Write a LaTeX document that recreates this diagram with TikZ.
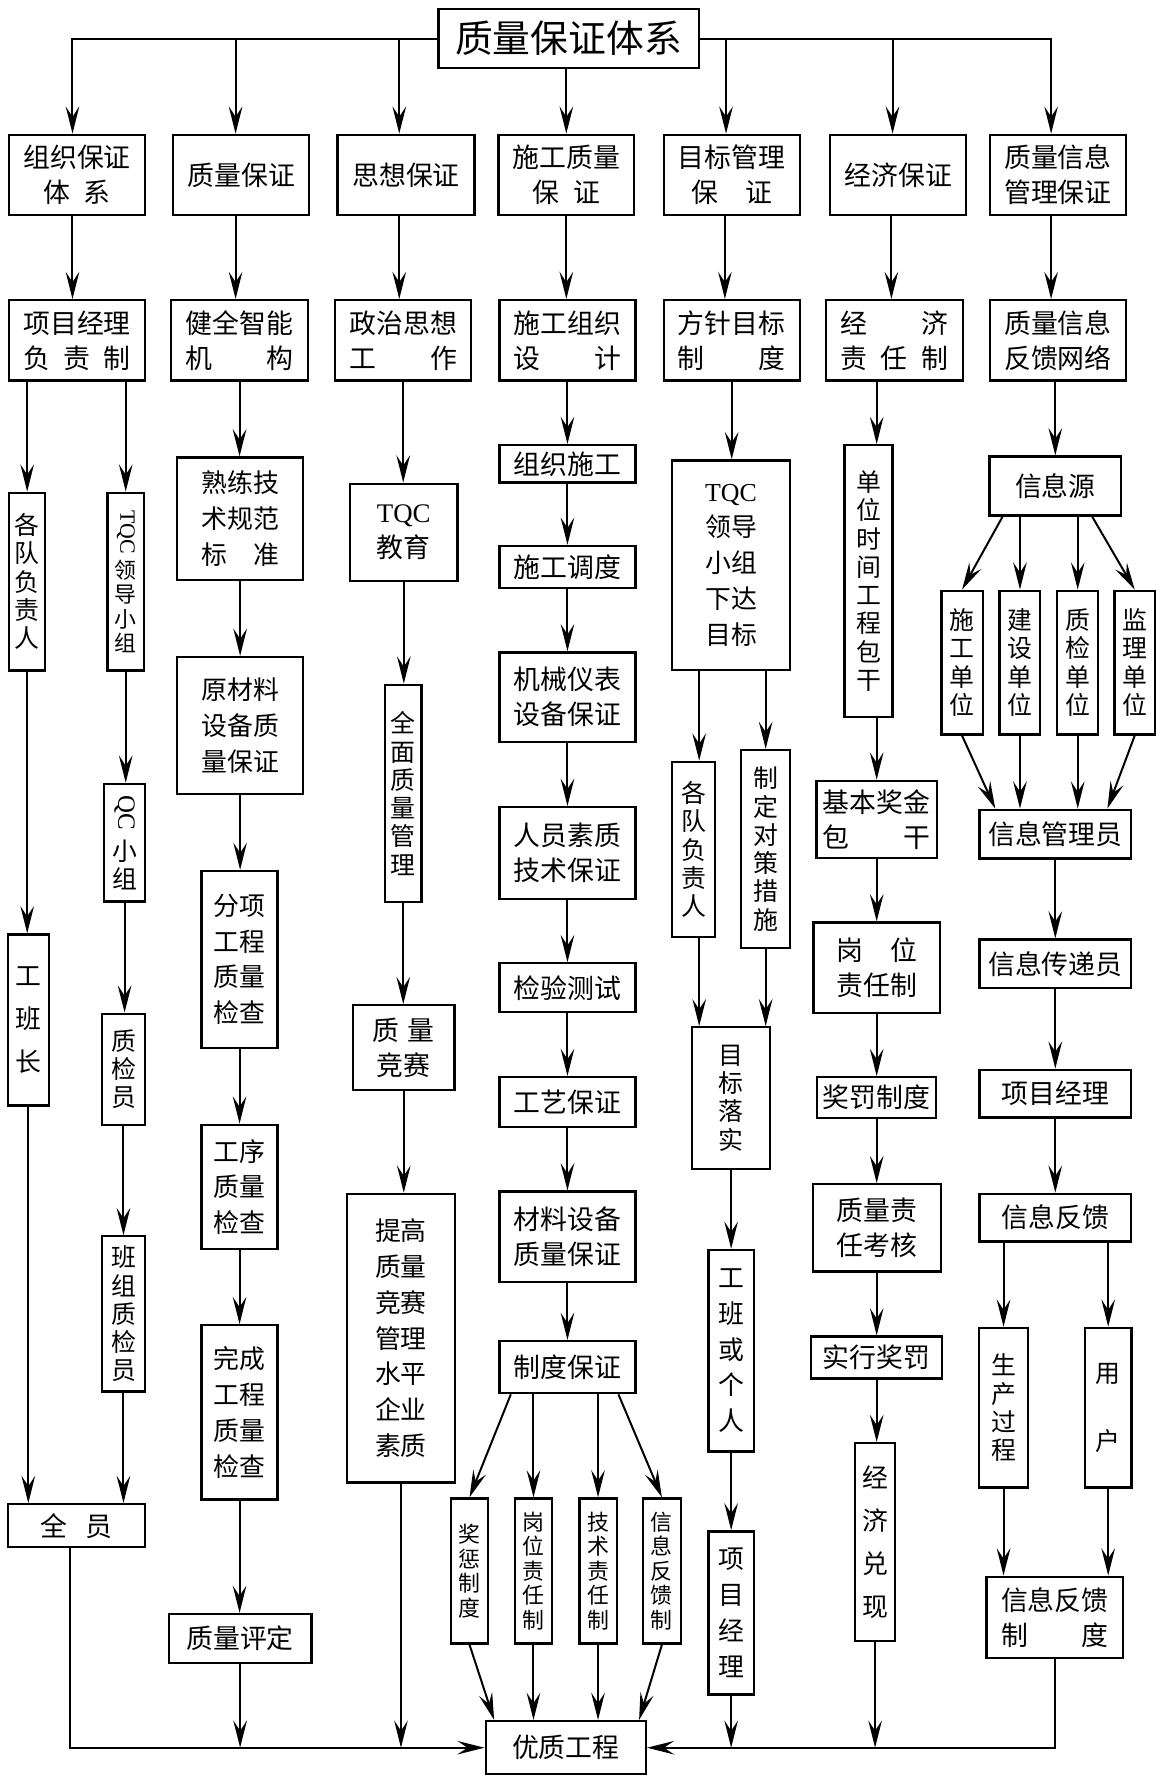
\documentclass[tikz,border=0pt]{standalone}
\usepackage{graphicx}
\usepackage{fontspec}
\setmainfont{Noto Sans CJK SC}
\newfontfamily\latinfont{Liberation Serif}
\usetikzlibrary{arrows.meta}
\newcommand{\fntitle}{\fontsize{19}{22}\selectfont}
\newcommand{\fnbox}{\fontsize{13.5}{17.6}\selectfont}
\newcommand{\fnvert}{\fontsize{12.5}{14.2}\selectfont}
\newcommand{\fnsmall}{\fontsize{11}{12.3}\selectfont}
\newcommand{\fnwide}{\fontsize{13}{18}\selectfont}
\newcommand{\fnwider}{\fontsize{13}{21.5}\selectfont}

\begin{document}
\begin{tikzpicture}[x=0.02cm,y=-0.02cm,
  box/.style={draw,line width=1.15pt,inner sep=0pt,align=center,font=\fnbox},
  vbox/.style={box,font=\fnvert},
  sbox/.style={box,font=\fnsmall},
  arr/.style={line width=1pt,-{Stealth[length=4.8mm,width=2.4mm,inset=1.8mm]}}]
\useasboundingbox (0,0) rectangle (1020,1568);

\node[box,font=\fntitle,minimum width=4.6cm,minimum height=1.04cm] (title) at (502,34) {质量保证体系};

\node[box,minimum width=2.4cm,minimum height=1.42cm] (r1a) at (68,154.5) {组织保证\\体\hspace{0.5em}系};
\node[box,minimum width=2.4cm,minimum height=1.42cm] (r1b) at (213,154.5) {质量保证};
\node[box,minimum width=2.42cm,minimum height=1.42cm] (r1c) at (358.5,154.5) {思想保证};
\node[box,minimum width=2.4cm,minimum height=1.42cm] (r1d) at (500,154.5) {施工质量\\保\hspace{0.5em}证};
\node[box,minimum width=2.4cm,minimum height=1.42cm] (r1e) at (646,154.5) {目标管理\\保\hspace{1em}证};
\node[box,minimum width=2.4cm,minimum height=1.42cm] (r1f) at (793,154.5) {经济保证};
\node[box,minimum width=2.4cm,minimum height=1.42cm] (r1g) at (934,154.5) {质量信息\\管理保证};

\node[box,minimum width=2.4cm,minimum height=1.42cm] (r2a) at (68,300.5) {项目经理\\负\hspace{0.5em}责\hspace{0.5em}制};
\node[box,minimum width=2.42cm,minimum height=1.42cm] (r2b) at (211.5,300.5) {健全智能\\机\hspace{2em}构};
\node[box,minimum width=2.4cm,minimum height=1.42cm] (r2c) at (356,300.5) {政治思想\\工\hspace{2em}作};
\node[box,minimum width=2.4cm,minimum height=1.42cm] (r2d) at (501,300.5) {施工组织\\设\hspace{2em}计};
\node[box,minimum width=2.4cm,minimum height=1.42cm] (r2e) at (646,300.5) {方针目标\\制\hspace{2em}度};
\node[box,minimum width=2.42cm,minimum height=1.42cm] (r2f) at (789.5,300.5) {经\hspace{2em}济\\责\hspace{0.5em}任\hspace{0.5em}制};
\node[box,minimum width=2.4cm,minimum height=1.42cm] (r2g) at (934,300.5) {质量信息\\反馈网络};

\node[vbox,minimum width=0.64cm,minimum height=3.14cm] (c1a) at (24,513.5) {各\\队\\负\\责\\人};
\node[sbox,minimum width=0.64cm,minimum height=3.14cm] (c1b) at (111,513.5) {\rotatebox{-90}{\latinfont TQC}\\[2pt]领\\导\\小\\组};
\node[vbox,minimum width=0.72cm,minimum height=2.08cm] (c1c) at (110,744) {\rotatebox{-90}{\latinfont QC}\\[4pt]小\\组};
\node[box,font=\fnwider,minimum width=0.72cm,minimum height=3.02cm] (c1d) at (25,900.5) {工\\班\\长};
\node[vbox,minimum width=0.76cm,minimum height=1.96cm] (c1e) at (109,944) {质\\检\\员};
\node[vbox,minimum width=0.76cm,minimum height=2.74cm] (c1f) at (109,1160) {班\\组\\质\\检\\员};
\node[box,minimum width=2.42cm,minimum height=0.76cm] (c1g) at (67.5,1347) {全\hspace{0.7em}员};

\node[box,font=\fnwide,minimum width=2.22cm,minimum height=2.16cm] (c2a) at (212,458) {熟练技\\术规范\\标\hspace{1em}准};
\node[box,font=\fnwide,minimum width=2.22cm,minimum height=2.42cm] (c2b) at (212,640.5) {原材料\\设备质\\量保证};
\node[box,font=\fnwide,minimum width=1.34cm,minimum height=3.12cm] (c2c) at (211.5,847) {分项\\工程\\质量\\检查};
\node[box,font=\fnwide,minimum width=1.34cm,minimum height=2.2cm] (c2d) at (211.5,1048) {工序\\质量\\检查};
\node[box,font=\fnwide,minimum width=1.34cm,minimum height=3.08cm] (c2e) at (211.5,1247) {完成\\工程\\质量\\检查};
\node[box,minimum width=2.52cm,minimum height=0.86cm] (c2f) at (212,1446.5) {质量评定};

\node[box,minimum width=1.9cm,minimum height=1.72cm] (c3a) at (356.5,470) {{\latinfont TQC}\\教育};
\node[vbox,minimum width=0.65cm,minimum height=3.84cm] (c3b) at (356,700.5) {全\\面\\质\\量\\管\\理};
\node[box,minimum width=1.79cm,minimum height=1.5cm] (c3c) at (356.5,925) {质\hspace{0.3em}量\\竞赛};
\node[box,font=\fnwide,minimum width=1.9cm,minimum height=5.1cm] (c3d) at (354,1181.5) {提高\\质量\\竞赛\\管理\\水平\\企业\\素质};

\node[box,minimum width=2.4cm,minimum height=0.66cm] (c4a) at (501,409.5) {组织施工};
\node[box,minimum width=2.4cm,minimum height=0.74cm] (c4b) at (501,500.5) {施工调度};
\node[box,minimum width=2.4cm,minimum height=1.58cm] (c4c) at (501,615.5) {机械仪表\\设备保证};
\node[box,minimum width=2.4cm,minimum height=1.62cm] (c4d) at (501,753) {人员素质\\技术保证};
\node[box,minimum width=2.4cm,minimum height=0.86cm] (c4e) at (501,872) {检验测试};
\node[box,minimum width=2.4cm,minimum height=0.88cm] (c4f) at (501,973) {工艺保证};
\node[box,minimum width=2.4cm,minimum height=1.6cm] (c4g) at (501,1092) {材料设备\\质量保证};
\node[box,minimum width=2.4cm,minimum height=0.92cm] (c4h) at (501,1207) {制度保证};
\node[sbox,minimum width=0.66cm,minimum height=2.56cm] (k1) at (414.5,1387) {奖\\惩\\制\\度};
\node[sbox,minimum width=0.66cm,minimum height=2.56cm] (k2) at (471,1387) {岗\\位\\责\\任\\制};
\node[sbox,minimum width=0.66cm,minimum height=2.56cm] (k3) at (528,1387) {技\\术\\责\\任\\制};
\node[sbox,minimum width=0.67cm,minimum height=2.56cm] (k4) at (584.4,1387) {信\\息\\反\\馈\\制};
\node[box,minimum width=2.83cm,minimum height=0.94cm] (yz) at (499.5,1543) {优质工程};

\node[box,font=\fnwide,minimum width=2.08cm,minimum height=3.7cm] (c5a) at (645.4,499) {{\latinfont TQC}\\领导\\小组\\下达\\目标};
\node[vbox,minimum width=0.76cm,minimum height=3.1cm] (c5b) at (612.3,750) {各\\队\\负\\责\\人};
\node[vbox,minimum width=0.86cm,minimum height=3.5cm] (c5c) at (676,749.7) {制\\定\\对\\策\\措\\施};
\node[vbox,minimum width=1.37cm,minimum height=2.5cm] (c5d) at (645.3,969.5) {目\\标\\落\\实};
\node[box,font=\fnwide,minimum width=0.8cm,minimum height=3.56cm] (c5e) at (645.5,1192.5) {工\\班\\或\\个\\人};
\node[box,font=\fnwide,minimum width=0.8cm,minimum height=2.88cm] (c5f) at (645.5,1424) {项\\目\\经\\理};

\node[vbox,minimum width=0.85cm,minimum height=4.8cm] (c6a) at (766.8,513) {单\\位\\时\\间\\工\\程\\包\\干};
\node[box,minimum width=2.13cm,minimum height=1.36cm] (c6b) at (774,723.3) {基本奖金\\包\hspace{2em}干};
\node[box,minimum width=2.23cm,minimum height=1.6cm] (c6c) at (774,854.4) {岗\hspace{1em}位\\责任制};
\node[box,minimum width=2.1cm,minimum height=0.72cm] (c6d) at (774,969) {奖罚制度};
\node[box,minimum width=2.26cm,minimum height=1.54cm] (c6e) at (774,1084) {质量责\\任考核};
\node[box,minimum width=2.31cm,minimum height=0.74cm] (c6f) at (774,1198.5) {实行奖罚};
\node[box,font=\fnwider,minimum width=0.7cm,minimum height=3.5cm] (c6g) at (772.6,1361.6) {经\\济\\兑\\现};

\node[box,minimum width=2.32cm,minimum height=1.04cm] (c7a) at (931.7,429) {信息源};
\node[vbox,minimum width=0.73cm,minimum height=2.54cm] (c7b) at (849.4,585) {施\\工\\单\\位};
\node[vbox,minimum width=0.72cm,minimum height=2.54cm] (c7c) at (900.5,585) {建\\设\\单\\位};
\node[vbox,minimum width=0.72cm,minimum height=2.54cm] (c7d) at (951.5,585) {质\\检\\单\\位};
\node[vbox,minimum width=0.71cm,minimum height=2.54cm] (c7e) at (1001.8,585) {监\\理\\单\\位};
\node[box,minimum width=2.68cm,minimum height=0.86cm] (c7f) at (931.7,736.4) {信息管理员};
\node[box,minimum width=2.68cm,minimum height=0.86cm] (c7g) at (931.7,851) {信息传递员};
\node[box,minimum width=2.68cm,minimum height=0.84cm] (c7h) at (931.7,965.5) {项目经理};
\node[box,minimum width=2.68cm,minimum height=0.84cm] (c7i) at (931.7,1075) {信息反馈};
\node[vbox,minimum width=0.86cm,minimum height=2.82cm] (c7j) at (886,1242.8) {生\\产\\过\\程};
\node[vbox,minimum width=0.82cm,minimum height=2.82cm] (c7k) at (978.4,1242.8) {用\\[20pt]户};
\node[box,minimum width=2.41cm,minimum height=1.44cm] (c7l) at (931.3,1428) {信息反馈\\制\hspace{2em}度};

\draw[arr] (title.west) -| ([xshift=-0.08cm]r1a.north);
\draw[arr] ([xshift=-0.1cm]r1b.north |- title.west) -- ([xshift=-0.1cm]r1b.north);
\draw[arr] ([xshift=-0.12cm]r1c.north |- title.west) -- ([xshift=-0.12cm]r1c.north);
\draw[arr] (title.south -| r1d) -- (r1d);
\draw[arr] (title.east) -| ([xshift=-0.12cm]r1g.north);
\draw[arr] ([xshift=-0.1cm]r1e.north |- title.east) -- ([xshift=-0.1cm]r1e.north);
\draw[arr] ([xshift=-0.1cm]r1f.north |- title.east) -- ([xshift=-0.1cm]r1f.north);

\draw[arr] ([xshift=-0.08cm]r1a.south) -- ([xshift=-0.08cm]r1a.south |- r2a.north);
\draw[arr] ([xshift=-0.1cm]r1b.south) -- ([xshift=-0.1cm]r1b.south |- r2b.north);
\draw[arr] ([xshift=-0.12cm]r1c.south) -- ([xshift=-0.12cm]r1c.south |- r2c.north);
\draw[arr] (r1d) -- (r1d |- r2d.north);
\draw[arr] ([xshift=-0.12cm]r1e.south) -- ([xshift=-0.12cm]r1e.south |- r2e.north);
\draw[arr] ([xshift=-0.12cm]r1f.south) -- ([xshift=-0.12cm]r1f.south |- r2f.north);
\draw[arr] ([xshift=-0.12cm]r1g.south) -- ([xshift=-0.12cm]r1g.south |- r2g.north);

\draw[arr] (c1a |- r2a.south) -- (c1a);
\draw[arr] (c1b |- r2a.south) -- (c1b);
\draw[arr] (c1a) -- (c1a |- c1d.north);
\draw[arr] (c1b) -- (c1b |- c1c.north);
\draw[arr] (c1c) -- (c1c |- c1e.north);
\draw[arr] (c1e) -- (c1e |- c1f.north);
\draw[arr] (c1d) -- (c1d |- c1g.north);
\draw[arr] (c1f) -- (c1f |- c1g.north);
\draw[arr] ([xshift=-0.11cm]c1g.south) |- (yz);

\draw[arr] (r2b) -- (r2b |- c2a.north);
\draw[arr] (c2a) -- (c2a |- c2b.north);
\draw[arr] (c2b) -- (c2b |- c2c.north);
\draw[arr] (c2c) -- (c2c |- c2d.north);
\draw[arr] (c2d) -- (c2d |- c2e.north);
\draw[arr] (c2e) -- (c2e |- c2f.north);
\draw[arr] (c2f) -- (c2f |- yz);

\draw[arr] (r2c) -- (r2c |- c3a.north);
\draw[arr] (c3a) -- (c3a |- c3b.north);
\draw[arr] (c3b) -- (c3b |- c3c.north);
\draw[arr] (c3c) -- (c3c |- c3d.north);
\draw[arr] (c3d) -- (c3d |- yz);

\draw[arr] (r2d) -- (r2d |- c4a.north);
\draw[arr] (c4a) -- (c4b);
\draw[arr] (c4b) -- (c4c);
\draw[arr] (c4c) -- (c4d);
\draw[arr] (c4d) -- (c4e);
\draw[arr] (c4e) -- (c4f);
\draw[arr] (c4f) -- (c4g);
\draw[arr] (c4g) -- (c4h);
\draw[arr] ([xshift=0.22cm]c4h.south west) -- (k1.north);
\draw[arr] (k2 |- c4h.south) -- (k2);
\draw[arr] (k3 |- c4h.south) -- (k3);
\draw[arr] ([xshift=-0.32cm]c4h.south east) -- (k4.north);
\draw[arr] (k1.south) -- ([xshift=0.17cm]yz.north west);
\draw[arr] (k2) -- (k2 |- yz.north);
\draw[arr] (k3) -- (k3 |- yz.north);
\draw[arr] (k4.south) -- ([xshift=-0.14cm]yz.north east);

\draw[arr] (r2e) -- (r2e |- c5a.north);
\draw[arr] ([xshift=0.1cm]c5b.north |- c5a.south) -- ([xshift=0.1cm]c5b.north);
\draw[arr] (c5c |- c5a.south) -- (c5c);
\draw[arr] ([xshift=0.1cm]c5b.south) -- ([xshift=0.1cm]c5b.south |- c5d.north);
\draw[arr] (c5c) -- (c5c |- c5d.north);
\draw[arr] (c5e |- c5d.south) -- (c5e);
\draw[arr] (c5e) -- (c5e |- c5f.north);
\draw[arr] (c5f) -- (c5f |- yz);

\draw[arr] (c6b |- r2f.south) -- (c6b |- c6a.north);
\draw[arr] (c6b |- c6a.south) -- (c6b);
\draw[arr] (c6b) -- (c6b |- c6c.north);
\draw[arr] (c6c) -- (c6c |- c6d.north);
\draw[arr] (c6d) -- (c6d |- c6e.north);
\draw[arr] (c6e) -- (c6e |- c6f.north);
\draw[arr] (c6f) -- (c6f |- c6g.north);
\draw[arr] (c6g) -- (c6g |- yz);

\draw[arr] (c7a |- r2g.south) -- (c7a);
\draw[arr] ([xshift=0.25cm]c7a.south west) -- (c7b.north);
\draw[arr] (c7c |- c7a.south) -- (c7c);
\draw[arr] (c7d |- c7a.south) -- (c7d);
\draw[arr] ([xshift=-0.53cm]c7a.south east) -- (c7e.north);
\draw[arr] (c7b.south) -- ([xshift=0.3cm]c7f.north west);
\draw[arr] (c7c) -- (c7c |- c7f.north);
\draw[arr] (c7d) -- (c7d |- c7f.north);
\draw[arr] (c7e.south) -- ([xshift=-0.44cm]c7f.north east);
\draw[arr] (c7f) -- (c7g);
\draw[arr] (c7g) -- (c7h);
\draw[arr] (c7h) -- (c7i);
\draw[arr] (c7j |- c7i.south) -- (c7j);
\draw[arr] (c7k |- c7i.south) -- (c7k);
\draw[arr] (c7j) -- (c7j |- c7l.north);
\draw[arr] (c7k) -- (c7k |- c7l.north);
\draw[arr] (c7l) |- (yz);

\end{tikzpicture}
\end{document}
